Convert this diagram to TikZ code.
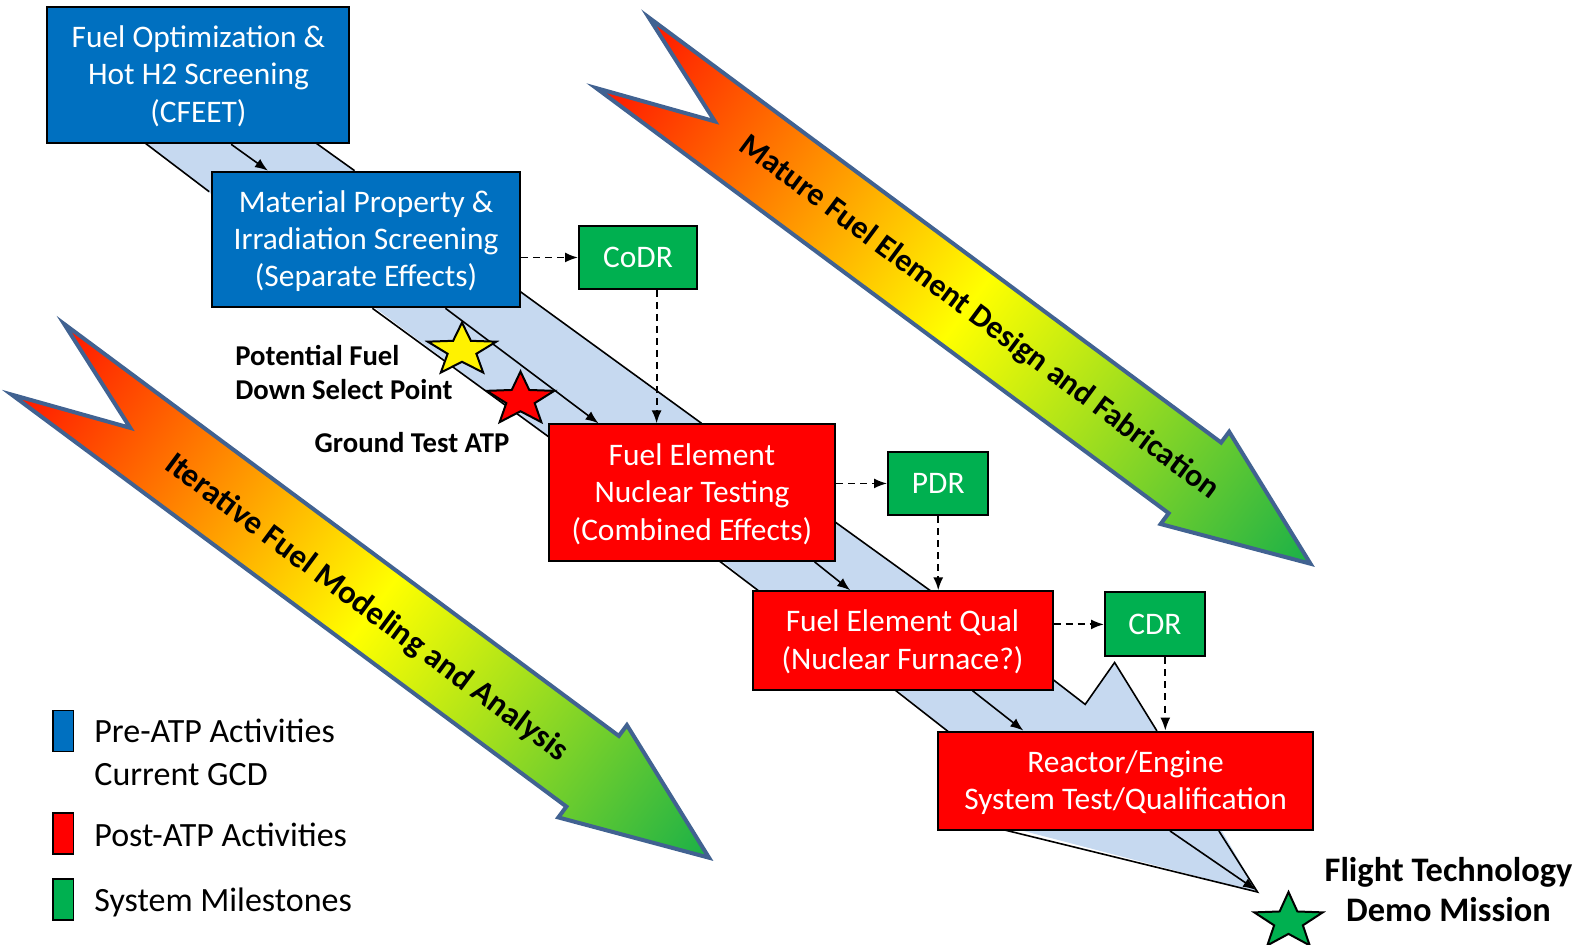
\documentclass[tikz,border=0pt]{standalone}
\usepackage{fontspec}
\setmainfont{Carlito}
\usetikzlibrary{arrows.meta}
\definecolor{pblue}{RGB}{0,112,192}
\definecolor{pgreen}{RGB}{0,176,80}
\definecolor{bandblue}{RGB}{198,217,240}
\definecolor{arrowborder}{RGB}{65,98,145}
\definecolor{gGreen}{RGB}{25,176,72}
\definecolor{gRed}{RGB}{255,20,0}
\definecolor{gYellow}{RGB}{255,255,0}
\newcommand\boxfont{\fontsize{15.7}{18.7}\selectfont}
\newcommand\legfont{\fontsize{17}{21.2}\selectfont}
\newcommand\lblfont{\bfseries\fontsize{14.35}{17}\selectfont}
\newcommand\flightfont{\bfseries\fontsize{17.2}{20}\selectfont}
\newcommand\bigarrowfont{\bfseries\fontsize{16}{19}\selectfont}
\newcommand\bigarrowfontB{\bfseries\fontsize{16.4}{19}\selectfont}
\tikzset{
  procbox/.style={draw=black, line width=1pt, text=white, align=center, inner sep=0pt, font=\boxfont, text depth=0pt},
  lines1/.style={text height=10pt},
  lines2/.style={text height=28.7pt},
  lines3/.style={text height=47.4pt},
  bluebox/.style={procbox, fill=pblue},
  redbox/.style={procbox, fill=red},
  greenbox/.style={procbox, fill=pgreen, lines1},
  dashconn/.style={line width=0.9pt, dash pattern=on 3.5pt off 2.5pt, -{Latex[length=6.5pt,width=5pt]}},
  solidconn/.style={line width=0.8pt, -{Latex[length=6.5pt,width=5pt]}},
  bandedge/.style={line width=0.8pt, draw=black},
  bandfill/.style={fill=bandblue},
  bigarrow/.style={left color=gRed, right color=gGreen, middle color=gYellow, draw=arrowborder, line width=2pt, line join=miter},
  starshape/.style={draw=black, line width=1pt, line join=miter},
  legbox/.style={draw=black, line width=0.8pt, inner sep=0pt, minimum width=10.3pt, minimum height=20.5pt},
  legtext/.style={font=\legfont, align=left, anchor=west, inner sep=0pt},
  lbltext/.style={font=\lblfont, align=left, inner sep=0pt},
}
\begin{document}
\begin{tikzpicture}[x=0.5pt,y=-0.5pt]
\useasboundingbox (0,0) rectangle (1584,945);

% ---------- big gradient arrows ----------
\begin{scope}[transform canvas={shift={(622.5,52.8)},rotate=-36.6}]
  \shade[bigarrow] (0,-44) -- (115,0) -- (0,44) -- (713,44) -- (713,57.5) -- (857,0) -- (713,-57.5) -- (713,-44) -- cycle;
\end{scope}
\begin{scope}[transform canvas={shift={(37.9,359.3)},rotate=-36.6}]
  \shade[bigarrow] (0,-44) -- (115,0) -- (0,44) -- (691,44) -- (691,57.5) -- (836,0) -- (691,-57.5) -- (691,-44) -- cycle;
\end{scope}
\node[font=\bigarrowfont, rotate=-36.6] (txtA) at (978.9,317.6) {Mature Fuel Element Design and Fabrication};
\node[font=\bigarrowfontB, rotate=-36.6] (txtB) at (366.3,608.2) {Iterative Fuel Modeling and Analysis};

% ---------- light blue band ----------
\fill[bandfill] (145.4,143.3) -- (316.3,143.3) -- (360,175) -- (300,200) -- (212,194.6) -- cycle;
\fill[bandfill] (372.4,306) -- (520.4,291.7) -- (701.5,423.3) -- (705,430) -- (600,440) -- (548.5,436.7) -- cycle;
\fill[bandfill] (719.7,559) -- (835.4,522.2) -- (936,595) -- (764,595) -- cycle;
\fill[bandfill] (894.6,688) -- (1052.5,679.2) -- (1085.2,704.4) -- (1114.6,662.5) -- (1159.5,735) -- (952.7,735) -- cycle;
\fill[bandfill] (1004.6,826) -- (1218.9,826) -- (1257.5,892) -- cycle;

\draw[bandedge] (145.4,143.3) -- (209.2,191.7);
\draw[bandedge] (316.3,143.3) -- (354.6,170.7);
\draw[bandedge] (372.4,308.3) -- (548.5,436.7);
\draw[bandedge] (520.4,291.7) -- (701.5,423.3);
\draw[bandedge] (719.7,561.3) -- (759.2,591.3);
\draw[bandedge] (835.4,522.2) -- (931.2,591.3);
\draw[bandedge] (894.6,689.7) -- (948.2,731.6);
\draw[bandedge] (1052.5,679.2) -- (1085.2,704.4) -- (1114.6,662.5) -- (1156.9,730.9);
\draw[bandedge, line join=miter] (1004.6,830) -- (1257.5,892) -- (1218.9,831);

% ---------- boxes ----------
\node[bluebox, lines3, minimum width=151pt, minimum height=68.3pt] (b1) at (198.45,75) {Fuel Optimization \&\\Hot H2 Screening\\(CFEET)};
\node[bluebox, lines3, minimum width=154.3pt, minimum height=67.8pt] (b2) at (366.05,239.5) {Material Property \&\\Irradiation Screening\\(Separate Effects)};
\node[redbox, lines3, minimum width=143.4pt, minimum height=68.3pt] (b3) at (691.95,492.65) {Fuel Element\\Nuclear Testing\\(Combined Effects)};
\node[redbox, lines2, minimum width=150pt, minimum height=49.2pt] (b4) at (902.5,640.5) {Fuel Element Qual\\(Nuclear Furnace?)};
\node[redbox, lines2, minimum width=187.5pt, minimum height=49.2pt] (b5) at (1125.55,780.8) {Reactor/Engine\\System Test/Qualification};
\node[greenbox, minimum width=59pt, minimum height=31.5pt] (codr) at (638,257.5) {CoDR};
\node[greenbox, minimum width=50.2pt, minimum height=31.8pt] (pdr) at (938.25,483.45) {PDR};
\node[greenbox, minimum width=49.9pt, minimum height=32.1pt] (cdr) at (1154.9,624.4) {CDR};
\coordinate (tip) at (1256,890);

% ---------- solid arrows inside the band ----------
\draw[solidconn] ([xshift=92.35pt]b1.south west) -- ([xshift=28.6pt]b2.north west);
\draw[solidconn] ([xshift=117.35pt]b2.south west) -- ([xshift=25.5pt]b3.north west);
\draw[solidconn] ([xshift=133.55pt]b3.south west) -- ([xshift=49.35pt]b4.north west);
\draw[solidconn] ([xshift=110.5pt]b4.south west) -- ([xshift=43.15pt]b5.north west);
\draw[solidconn] ([xshift=116.5pt]b5.south west) -- (tip);

% ---------- dashed milestone connectors ----------
\coordinate (c1) at ([xshift=9.3pt]codr.south);
\coordinate (c2) at ([xshift=5.2pt]cdr.south);
\draw[dashconn] (codr.west -| b2.east) -- (codr.west);
\draw[dashconn] (c1) -- (c1 |- b3.north);
\draw[dashconn] (pdr.west -| b3.east) -- (pdr.west);
\draw[dashconn] (pdr.south) -- (pdr.south |- b4.north);
\draw[dashconn] (cdr.west -| b4.east) -- (cdr.west);
\draw[dashconn] (c2) -- (c2 |- b5.north);

% ---------- stars ----------
\begin{scope}[shift={(462,350.2)}, xscale=36, yscale=27.6]
  \draw[starshape, fill=yellow] (-90:1) -- (-54:0.42) -- (-18:1) -- (18:0.42) -- (54:1) -- (90:0.42) -- (126:1) -- (162:0.42) -- (198:1) -- (234:0.42) -- cycle;
\end{scope}
\begin{scope}[shift={(520.5,399.5)}, xscale=35.5, yscale=28]
  \draw[starshape, fill=red] (-90:1) -- (-54:0.42) -- (-18:1) -- (18:0.42) -- (54:1) -- (90:0.42) -- (126:1) -- (162:0.42) -- (198:1) -- (234:0.42) -- cycle;
\end{scope}
\begin{scope}[shift={(1288.5,921.5)}, xscale=36, yscale=29.5]
  \draw[starshape, fill=pgreen] (-90:1) -- (-54:0.42) -- (-18:1) -- (18:0.42) -- (54:1) -- (90:0.42) -- (126:1) -- (162:0.42) -- (198:1) -- (234:0.42) -- cycle;
\end{scope}

% ---------- labels ----------
\node[lbltext, anchor=west] (pfdsp) at (235,373) {Potential Fuel\\Down Select Point};
\node[lbltext] (gtatp) at (412,443) {Ground Test ATP};
\node[font=\flightfont, align=center, inner sep=0pt] (ftdm) at (1448.5,890) {Flight Technology\\Demo Mission};

% ---------- legend ----------
\node[legbox, fill=pblue] (lg1) at (63.1,730.85) {};
\node[legbox, fill=red] (lg2) at (63.1,833.75) {};
\node[legbox, fill=pgreen] (lg3) at (63.1,899.6) {};
\node[legtext] (lt1) at (94,752.5) {Pre-ATP Activities\\Current GCD};
\node[legtext] (lt2) at (94,835) {Post-ATP Activities};
\node[legtext] (lt3) at (94,902) {System Milestones};
\end{tikzpicture}
\end{document}
